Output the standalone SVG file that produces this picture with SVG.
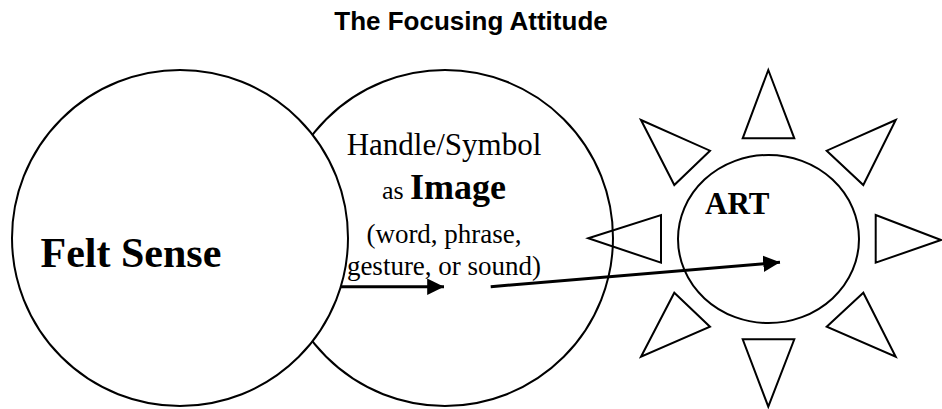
<svg xmlns="http://www.w3.org/2000/svg" width="942" height="409" viewBox="0 0 942 409">
<style>
.shape{fill:#fff;stroke:#000;stroke-width:2}
.ray{fill:none;stroke:#000;stroke-width:2;stroke-linejoin:miter}
.serif{font-family:"Liberation Serif","Times New Roman",serif;fill:#000}
.conn{stroke:#000;stroke-width:3;fill:none}
</style>
<defs>
<marker id="ah" markerWidth="6" markerHeight="6" refX="5.6" refY="2.75" orient="auto" markerUnits="strokeWidth">
<path d="M0,0 L5.6,2.75 L0,5.5 Z" fill="#000"/>
</marker>
</defs>
<rect width="942" height="409" fill="#fff"/>
<text x="471" y="30" text-anchor="middle" font-family="Liberation Sans, Arial, sans-serif" font-weight="bold" font-size="26">The Focusing Attitude</text>
<g id="image-node">
<circle class="shape" cx="445" cy="238" r="168"/>
<text class="serif" x="444" y="155" text-anchor="middle" font-size="31">Handle/Symbol</text>
<text class="serif" x="444" y="199" text-anchor="middle"><tspan font-size="26">as </tspan><tspan font-size="36" font-weight="bold">Image</tspan></text>
<text class="serif" x="444" y="243" text-anchor="middle" font-size="27">(word, phrase,</text>
<text class="serif" x="444" y="275" text-anchor="middle" font-size="27">gesture, or sound)</text>
</g>
<g id="felt-sense">
<circle class="shape" cx="180" cy="238" r="168"/>
<text class="serif" x="40.5" y="266.5" font-size="42" font-weight="bold">Felt Sense</text>
</g>
<g id="art">
<ellipse class="shape" cx="768.5" cy="239" rx="90.5" ry="84" fill="none" style="fill:none"/>
<polygon class="ray" points="768.3,70 794.3,138.3 742.7,138.3"/>
<polygon class="ray" points="742.7,339.3 794.3,339.3 768.3,406.7"/>
<polygon class="ray" points="588.3,238.3 661,215 661,262.7"/>
<polygon class="ray" points="875.7,215 941,240 875.7,262.7"/>
<polygon class="ray" points="641,120 710,150.7 674.3,185"/>
<polygon class="ray" points="895.7,120 826.7,150.7 863.3,185"/>
<polygon class="ray" points="674.3,292.7 710,326.7 641,356.7"/>
<polygon class="ray" points="863.3,292.7 826.7,326.7 895.7,356.7"/>
<text class="serif" x="705" y="214" font-size="31" font-weight="bold">ART</text>
</g>
<g id="connectors">
<line class="conn" x1="341" y1="286.7" x2="444" y2="286.7" marker-end="url(#ah)"/>
<line class="conn" x1="490.7" y1="286.7" x2="780" y2="262.3" marker-end="url(#ah)"/>
</g>
</svg>
